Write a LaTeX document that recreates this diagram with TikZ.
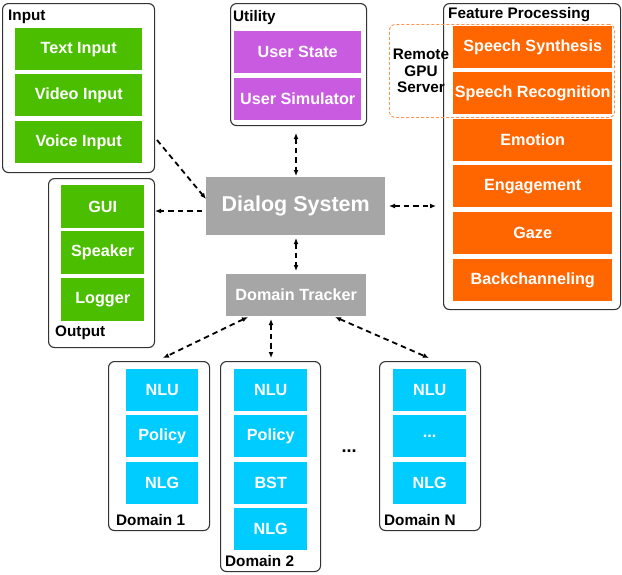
\documentclass[tikz,border=0pt]{standalone}
\usepackage{fontspec}
\setmainfont{Liberation Sans}
\usetikzlibrary{arrows.meta}
\definecolor{cgreen}{HTML}{4CBE00}
\definecolor{cpurple}{HTML}{C95BE1}
\definecolor{corange}{HTML}{FF6600}
\definecolor{ccyan}{HTML}{00CCFF}
\definecolor{cgray}{HTML}{A6A6A6}
\tikzset{
  box/.style={draw=none, inner sep=0pt, text=white, font=\fontsize{16.2}{17}\selectfont\bfseries, anchor=north west},
  gbox/.style={box, fill=cgreen},
  pbox/.style={box, fill=cpurple},
  obox/.style={box, fill=corange},
  cbox/.style={box, fill=ccyan},
  cont/.style={draw=black!80, line width=1.1pt, rounded corners=6pt, inner sep=0pt, anchor=north west},
  ttl/.style={font=\fontsize{15.3}{17}\selectfont\bfseries, inner sep=0pt, anchor=west},
  conn/.style={dashed, dash pattern=on 5.5pt off 4pt, line width=1.8pt, black},
  bi/.style={conn, {Latex[length=6pt,width=5pt]}-{Latex[length=6pt,width=5pt]}},
  uni/.style={conn, -{Latex[length=6pt,width=5pt]}},
}
\begin{document}
\begin{tikzpicture}[x=1pt,y=-1pt]
\useasboundingbox (0,0) rectangle (622,574);
% Input
\node[cont, minimum width=152pt, minimum height=169pt] (inC) at (2,3) {};
\node[ttl] (inT) at (8,17) {Input};
\node[gbox, minimum width=127pt, minimum height=42pt] (ti) at (15,28) {Text Input};
\node[gbox, minimum width=127pt, minimum height=42pt] (vi) at (15,74) {Video Input};
\node[gbox, minimum width=127pt, minimum height=42pt] (voi) at (15,121) {Voice Input};
% Utility
\node[cont, minimum width=136pt, minimum height=122pt] (utC) at (230,3) {};
\node[ttl] (utT) at (233,18) {Utility};
\node[pbox, minimum width=127pt, minimum height=42pt] (us) at (234,31) {User State};
\node[pbox, minimum width=127pt, minimum height=42pt] (usim) at (234,78) {User Simulator};
% Feature processing
\node[cont, minimum width=177pt, minimum height=306pt] (fpC) at (443,3) {};
\node[ttl] (fpT) at (448,15) {Feature Processing};
\node[obox, minimum width=159pt, minimum height=42pt] (ss) at (453,26) {Speech Synthesis};
\node[obox, minimum width=159pt, minimum height=42pt] (sr) at (453,72) {Speech Recognition};
\node[obox, minimum width=159pt, minimum height=42pt] (em) at (453,119) {Emotion};
\node[obox, minimum width=159pt, minimum height=42pt] (en) at (453,165) {Engagement};
\node[obox, minimum width=159pt, minimum height=42pt] (gz) at (453,212) {Gaze};
\node[obox, minimum width=159pt, minimum height=42pt] (bc) at (453,259) {Backchanneling};
\node[draw=corange!70, dashed, dash pattern=on 3pt off 2pt, line width=0.9pt, rounded corners=5pt, minimum width=225pt, minimum height=93pt, inner sep=0pt, anchor=north west] (gpu) at (389,24) {};
\node[font=\fontsize{15.3}{16.5}\selectfont\bfseries, align=center, inner sep=0pt] (gpuT) at (421,71) {Remote\\GPU\\Server};
% Dialog system
\node[box, fill=cgray, minimum width=179pt, minimum height=58pt, font=\fontsize{21.5}{24}\selectfont\bfseries] (ds) at (206,177) {Dialog System};
\node[box, fill=cgray, minimum width=140pt, minimum height=42pt] (dt) at (226,274) {Domain Tracker};
% Output
\node[cont, minimum width=106pt, minimum height=169pt] (outC) at (48,178) {};
\node[gbox, minimum width=83pt, minimum height=43pt] (gui) at (61,185) {GUI};
\node[gbox, minimum width=83pt, minimum height=43pt] (spk) at (61,231) {Speaker};
\node[gbox, minimum width=83pt, minimum height=43pt] (log) at (61,278) {Logger};
\node[ttl] (outT) at (55,333) {Output};
% Domain 1
\node[cont, minimum width=101pt, minimum height=169pt] (d1C) at (108,361) {};
\node[cbox, minimum width=72pt, minimum height=42pt] (d1a) at (126,369) {NLU};
\node[cbox, minimum width=72pt, minimum height=42pt] (d1b) at (126,415) {Policy};
\node[cbox, minimum width=72pt, minimum height=42pt] (d1c) at (126,462) {NLG};
\node[ttl] (d1T) at (116,520) {Domain 1};
% Domain 2
\node[cont, minimum width=100pt, minimum height=210pt] (d2C) at (220,361) {};
\node[cbox, minimum width=73pt, minimum height=42pt] (d2a) at (234,369) {NLU};
\node[cbox, minimum width=73pt, minimum height=42pt] (d2b) at (234,415) {Policy};
\node[cbox, minimum width=73pt, minimum height=42pt] (d2c) at (234,462) {BST};
\node[cbox, minimum width=73pt, minimum height=42pt] (d2d) at (234,508) {NLG};
\node[ttl] (d2T) at (225,561) {Domain 2};
% Domain N
\node[cont, minimum width=101pt, minimum height=169pt] (dnC) at (379,361) {};
\node[cbox, minimum width=73pt, minimum height=42pt] (dna) at (393,369) {NLU};
\node[cbox, minimum width=73pt, minimum height=42pt] (dnb) at (393,415) {...};
\node[cbox, minimum width=73pt, minimum height=42pt] (dnc) at (393,462) {NLG};
\node[ttl] (dnT) at (384,520) {Domain N};
\node[font=\fontsize{18}{20}\selectfont\bfseries, inner sep=0pt] (dots) at (349,451) {...};
% connectors
\coordinate (a1) at (157,140);
\coordinate (a1e) at (206,199);
\draw[uni] (a1) -- (a1e);
\coordinate (o1) at (202,211);
\coordinate (o1e) at (155,211);
\draw[uni] (o1) -- (o1e);
\draw[bi] (389,206) coordinate (f1) -- (436,206) coordinate (f2);
\draw[bi] (296,133) coordinate (u1) -- (296,176) coordinate (u2);
\draw[bi] (296,238) coordinate (t1) -- (296,271) coordinate (t2);
\draw[bi] (248,317) coordinate (k1) -- (163,358) coordinate (k2);
\draw[bi] (271,319) coordinate (k3) -- (271,358) coordinate (k4);
\draw[bi] (335,317) coordinate (k5) -- (429,358) coordinate (k6);
\end{tikzpicture}
\end{document}
